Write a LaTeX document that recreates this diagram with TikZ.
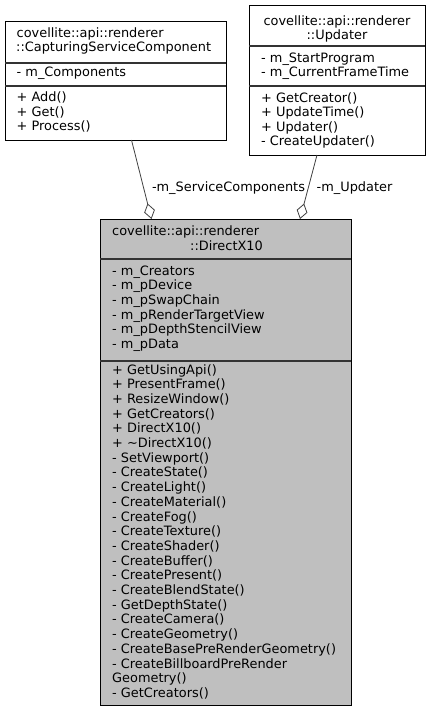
\documentclass[tikz,border=0pt]{standalone}
\usepackage{fontspec}
\setmainfont{DejaVu Sans}
\usetikzlibrary{arrows.meta,calc}

\begin{document}
\begin{tikzpicture}[x=1pt, y=-1pt,
  every node/.style={font=\fontsize{12.9}{14.7}\selectfont},
  classbox/.style={draw=black, line width=1pt, fill=white, inner sep=0pt, outer sep=0pt, anchor=north west},
  sepline/.style={draw=black!80, line width=1.3pt},
  member/.style={anchor=west, inner sep=0pt, text height=1em, text depth=0.2em},
  aggr/.style={draw=black!75, line width=0.8pt, {Diamond[open, length=16pt, width=11pt]}-}]
  \useasboundingbox (0,0) rectangle (429,712);
  % Klasse: CapturingServiceComponent
  \node[classbox, minimum width=221pt, minimum height=119pt] (capt) at (5,21) {};
  \draw[sepline] (5,63) -- (226,63);
  \draw[sepline] (5,86) -- (226,86);
  \node[member] (capttitle1) at (16.5,33) {covellite::api::renderer};
  \node[member] (capttitle2) at (16,47.5) {::CapturingServiceComponent};
  \node[member] (captattr) at (16.5,72.5) {- m\_Components};
  \foreach \m [count=\i from 0] in {+ Add(), + Get(), + Process()}
    \node[member] (captmeth\i) at (16.5,97.5+14.6*\i) {\m};
  % Klasse: Updater
  \node[classbox, minimum width=176pt, minimum height=150pt] (upd) at (249,5) {};
  \draw[sepline] (249,46) -- (425,46);
  \draw[sepline] (249,86) -- (425,86);
  \node[member, anchor=center] (updtitle1) at (337,21) {covellite::api::renderer};
  \node[member, anchor=center] (updtitle2) at (337,35) {::Updater};
  \foreach \m [count=\i from 0] in {- m\_StartProgram, - m\_CurrentFrameTime}
    \node[member] (updattr\i) at (261,58+14.5*\i) {\m};
  \foreach \m [count=\i from 0] in {+ GetCreator(), + UpdateTime(), + Updater(), - CreateUpdater()}
    \node[member] (updmeth\i) at (261,98+14.6*\i) {\m};
  % Klasse: DirectX10 (markert)
  \node[classbox, fill={rgb,255:red,191;green,191;blue,191}, minimum width=251pt, minimum height=486pt] (dx) at (100,219) {};
  \draw[sepline] (100,259) -- (351,259);
  \draw[sepline] (100,361) -- (351,361);
  \node[member] (dxtitle1) at (112,231) {covellite::api::renderer};
  \node[member, anchor=east] (dxtitle2) at (263,246) {::DirectX10};
  \foreach \m [count=\i from 0] in {- m\_Creators, - m\_pDevice, - m\_pSwapChain,
      - m\_pRenderTargetView, - m\_pDepthStencilView, - m\_pData}
    \node[member] (dxattr\i) at (112,271+14.7*\i) {\m};
  \foreach \m [count=\i from 0] in {+ GetUsingApi(), + PresentFrame(), + ResizeWindow(),
      + GetCreators(), + DirectX10(), + \textasciitilde DirectX10(), - SetViewport(),
      - CreateState(), - CreateLight(), - CreateMaterial(), - CreateFog(),
      - CreateTexture(), - CreateShader(), - CreateBuffer(), - CreatePresent(),
      - CreateBlendState(), - GetDepthState(), - CreateCamera(), - CreateGeometry(),
      - CreateBasePreRenderGeometry(), - CreateBillboardPreRender, Geometry(),
      - GetCreators()}
    \node[member] (dxmeth\i) at (112,370+14.7*\i) {\m};
  % Aggregeringer
  \draw[aggr] ($(dx.north west)+(51.5,0)$) -- ($(capt.south west)+(126.5,0)$);
  \draw[aggr] ($(dx.north west)+(200,0)$) -- ($(upd.south west)+(68,0)$);
  \node[member, anchor=center] (lblsvc) at (228.5,187) {-m\_ServiceComponents};
  \node[member, anchor=center] (lblupd) at (354.5,187) {-m\_Updater};
\end{tikzpicture}
\end{document}
